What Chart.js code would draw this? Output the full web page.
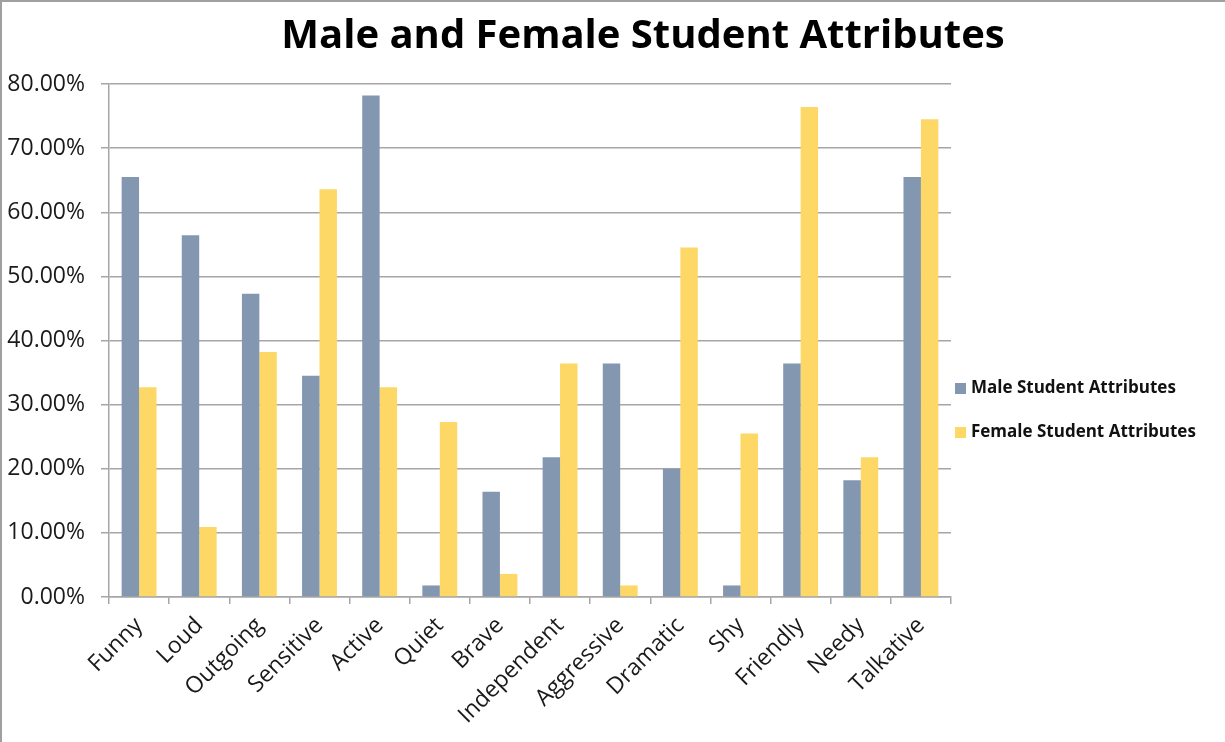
<!DOCTYPE html>
<html>
<head>
<meta charset="utf-8">
<script src="https://cdn.jsdelivr.net/npm/chart.js@4.4.0/dist/chart.umd.min.js"></script>
<style>
  body { margin: 0; background: #fff; }
  #wrap { position: relative; width: 1225px; height: 742px; }
  #frame { position: absolute; left: 0; top: 0; width: 1225px; height: 742px; box-sizing: border-box;
           border-left: 2px solid #a0a0a0; border-top: 2px solid #a0a0a0; pointer-events: none; }
  #legend { position: absolute; left: 955px; top: 375px; font-family: "Open Sans", sans-serif;
            font-weight: 700; font-size: 17px; color: #111; }
  #legend div { height: 44px; display: flex; align-items: flex-start; }
  #legend span.box { display: inline-block; width: 11px; height: 11px; margin: 8px 5px 0 0; }
</style>
</head>
<body>
<div id="wrap">
  <canvas id="chart" width="1225" height="742"></canvas>
  <div id="legend"></div>
  <div id="frame"></div>
</div>
<script>
const categories = ['Funny', 'Loud', 'Outgoing', 'Sensitive', 'Active', 'Quiet', 'Brave',
    'Independent', 'Aggressive', 'Dramatic', 'Shy', 'Friendly', 'Needy', 'Talkative'];
const maleValues = [65.5, 56.4, 47.3, 34.5, 78.2, 1.8, 16.4, 21.8, 36.4, 20.0, 1.8, 36.4, 18.2, 65.5];
const femaleValues = [32.7, 10.9, 38.2, 63.6, 32.7, 27.3, 3.6, 36.4, 1.8, 54.5, 25.5, 76.4, 21.8, 74.5];
const yTicks = [0, 10, 20, 30, 40, 50, 60, 70, 80];
const seriesNames = ['Male Student Attributes', 'Female Student Attributes'];
const seriesColors = ['#8497B0', '#FDD867'];

const gridGray = '#a6a6a6';
const fontFamily = '"Open Sans", sans-serif';

// title is centred over plot + legend, not the canvas, so draw it by hand
const titlePlugin = {
    id: 'customTitle',
    afterDraw(chart) {
        const ctx = chart.ctx;
        ctx.save();
        ctx.font = 'bold 40px ' + fontFamily;
        ctx.fillStyle = '#000';
        ctx.textAlign = 'center';
        ctx.textBaseline = 'middle';
        ctx.fillText('Male and Female Student Attributes', 643, 37);
        ctx.restore();
    }
};

const legendEl = document.getElementById('legend');
seriesNames.forEach((name, i) => {
    legendEl.innerHTML += `<div><span class="box" style="background:${seriesColors[i]}"></span>${name}</div>`;
});

new Chart(document.getElementById('chart'), {
    type: 'bar',
    data: {
        labels: categories,
        datasets: [
            { label: seriesNames[0], data: maleValues, backgroundColor: seriesColors[0] },
            { label: seriesNames[1], data: femaleValues, backgroundColor: seriesColors[1] }
        ]
    },
    options: {
        responsive: false,
        animation: false,
        layout: { padding: { left: 2, right: 274, top: 84, bottom: 0 } },
        datasets: { bar: { categoryPercentage: 0.58, barPercentage: 1.0 } },
        plugins: {
            legend: { display: false },
            title: { display: false },
            tooltip: { enabled: false }
        },
        scales: {
            x: {
                afterFit: s => { s.height = 145; },
                grid: { display: true, drawOnChartArea: false, offset: true, color: gridGray, lineWidth: 1.5, tickLength: 7 },
                border: { color: gridGray, width: 1.5 },
                ticks: {
                    minRotation: 45, maxRotation: 45, padding: 8,
                    color: '#1a1a1a', font: { family: fontFamily, size: 23 }
                }
            },
            y: {
                min: 0, max: 80,
                afterFit: s => { s.width = 107; },
                afterBuildTicks: s => { s.ticks = yTicks.map(v => ({ value: v })); },
                grid: { color: gridGray, lineWidth: 1.5, tickLength: 8 },
                border: { color: gridGray, width: 1.5 },
                ticks: {
                    padding: 16, color: '#1a1a1a',
                    font: { family: fontFamily, size: 23 },
                    callback: v => v.toFixed(2) + '%'
                }
            }
        }
    },
    plugins: [titlePlugin]
});
</script>
</body>
</html>
